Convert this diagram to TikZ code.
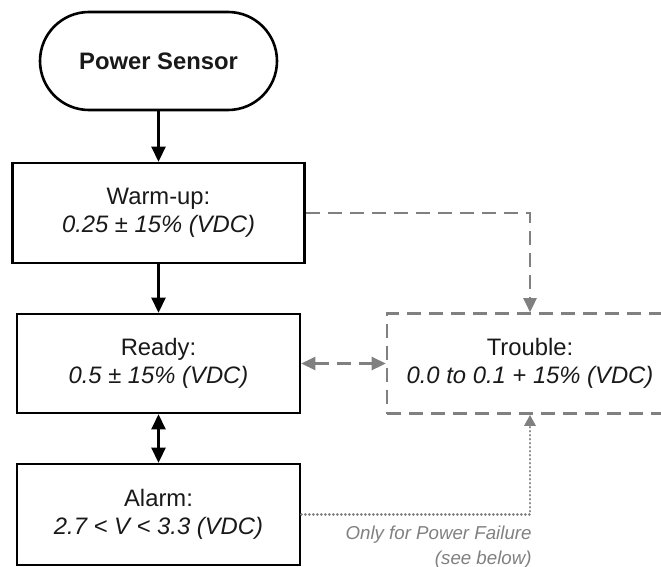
\documentclass[tikz,border=0pt]{standalone}
\usepackage{fontspec}
\setmainfont{Liberation Sans}
\usetikzlibrary{arrows.meta, positioning}
\definecolor{ink}{RGB}{25,25,25}
\definecolor{linegray}{RGB}{128,128,128}

\begin{document}
\begin{tikzpicture}[
  node distance=48.4pt,
  box/.style={rectangle, draw, line width=2.6pt, fill=white, minimum width=283pt, minimum height=99pt, align=center, text=ink, font=\fontsize{23.8pt}{28pt}\selectfont},
  start/.style={box, rounded corners=49pt, minimum width=237pt, minimum height=98pt, font=\fontsize{23.8pt}{28pt}\selectfont\bfseries},
  ghost/.style={box, draw=linegray, dash pattern=on 14pt off 8pt, minimum width=286pt, minimum height=100pt},
  arrow/.style={->, >={Triangle[length=15pt, width=14pt]}, line width=2.6pt, draw=black},
  darrow/.style={->, >={Triangle[length=14pt, width=13pt]}, line width=2.6pt, draw=linegray, dash pattern=on 14pt off 8pt},
  dotarrow/.style={->, >={Triangle[length=11pt, width=11pt]}, line width=2.8pt, draw=linegray, line cap=round, dash pattern=on 0.1pt off 3.9pt},
  lbl/.style={font=\fontsize{18.7pt}{25pt}\selectfont\itshape, text=linegray, align=right, inner sep=0pt}
]
\useasboundingbox (0,0) rectangle (661pt,-567pt);
\node[start] (PS) at (158.5pt,-61pt) {Power Sensor};
\node[box, below=50.4pt of PS, minimum width=292pt, minimum height=100pt] (WU) {Warm-up:\\ \textit{0.25 ± 15\% (VDC)}};
\node[box, below=of WU] (RD) {Ready:\\ \textit{0.5 ± 15\% (VDC)}};
\node[box, below=of RD, minimum height=101pt] (AL) {Alarm:\\ \textit{2.7 < V < 3.3 (VDC)}};
\node[ghost, right=84.4pt of RD] (TR) {Trouble:\\ \textit{0.0 to 0.1 + 15\% (VDC)}};
\draw[arrow] (PS) -- (WU);
\draw[arrow] (WU) -- (RD);
\draw[arrow, <->] (RD) -- (AL);
\draw[darrow] (WU.east) -| (TR.north);
\draw[darrow, <->] (RD) -- (TR);
\draw[dotarrow] (AL.east) -| (TR.south) node[pos=0.5, lbl, anchor=north east, xshift=3pt, yshift=-10pt] {Only for Power Failure\\(see below)};
\end{tikzpicture}
\end{document}
